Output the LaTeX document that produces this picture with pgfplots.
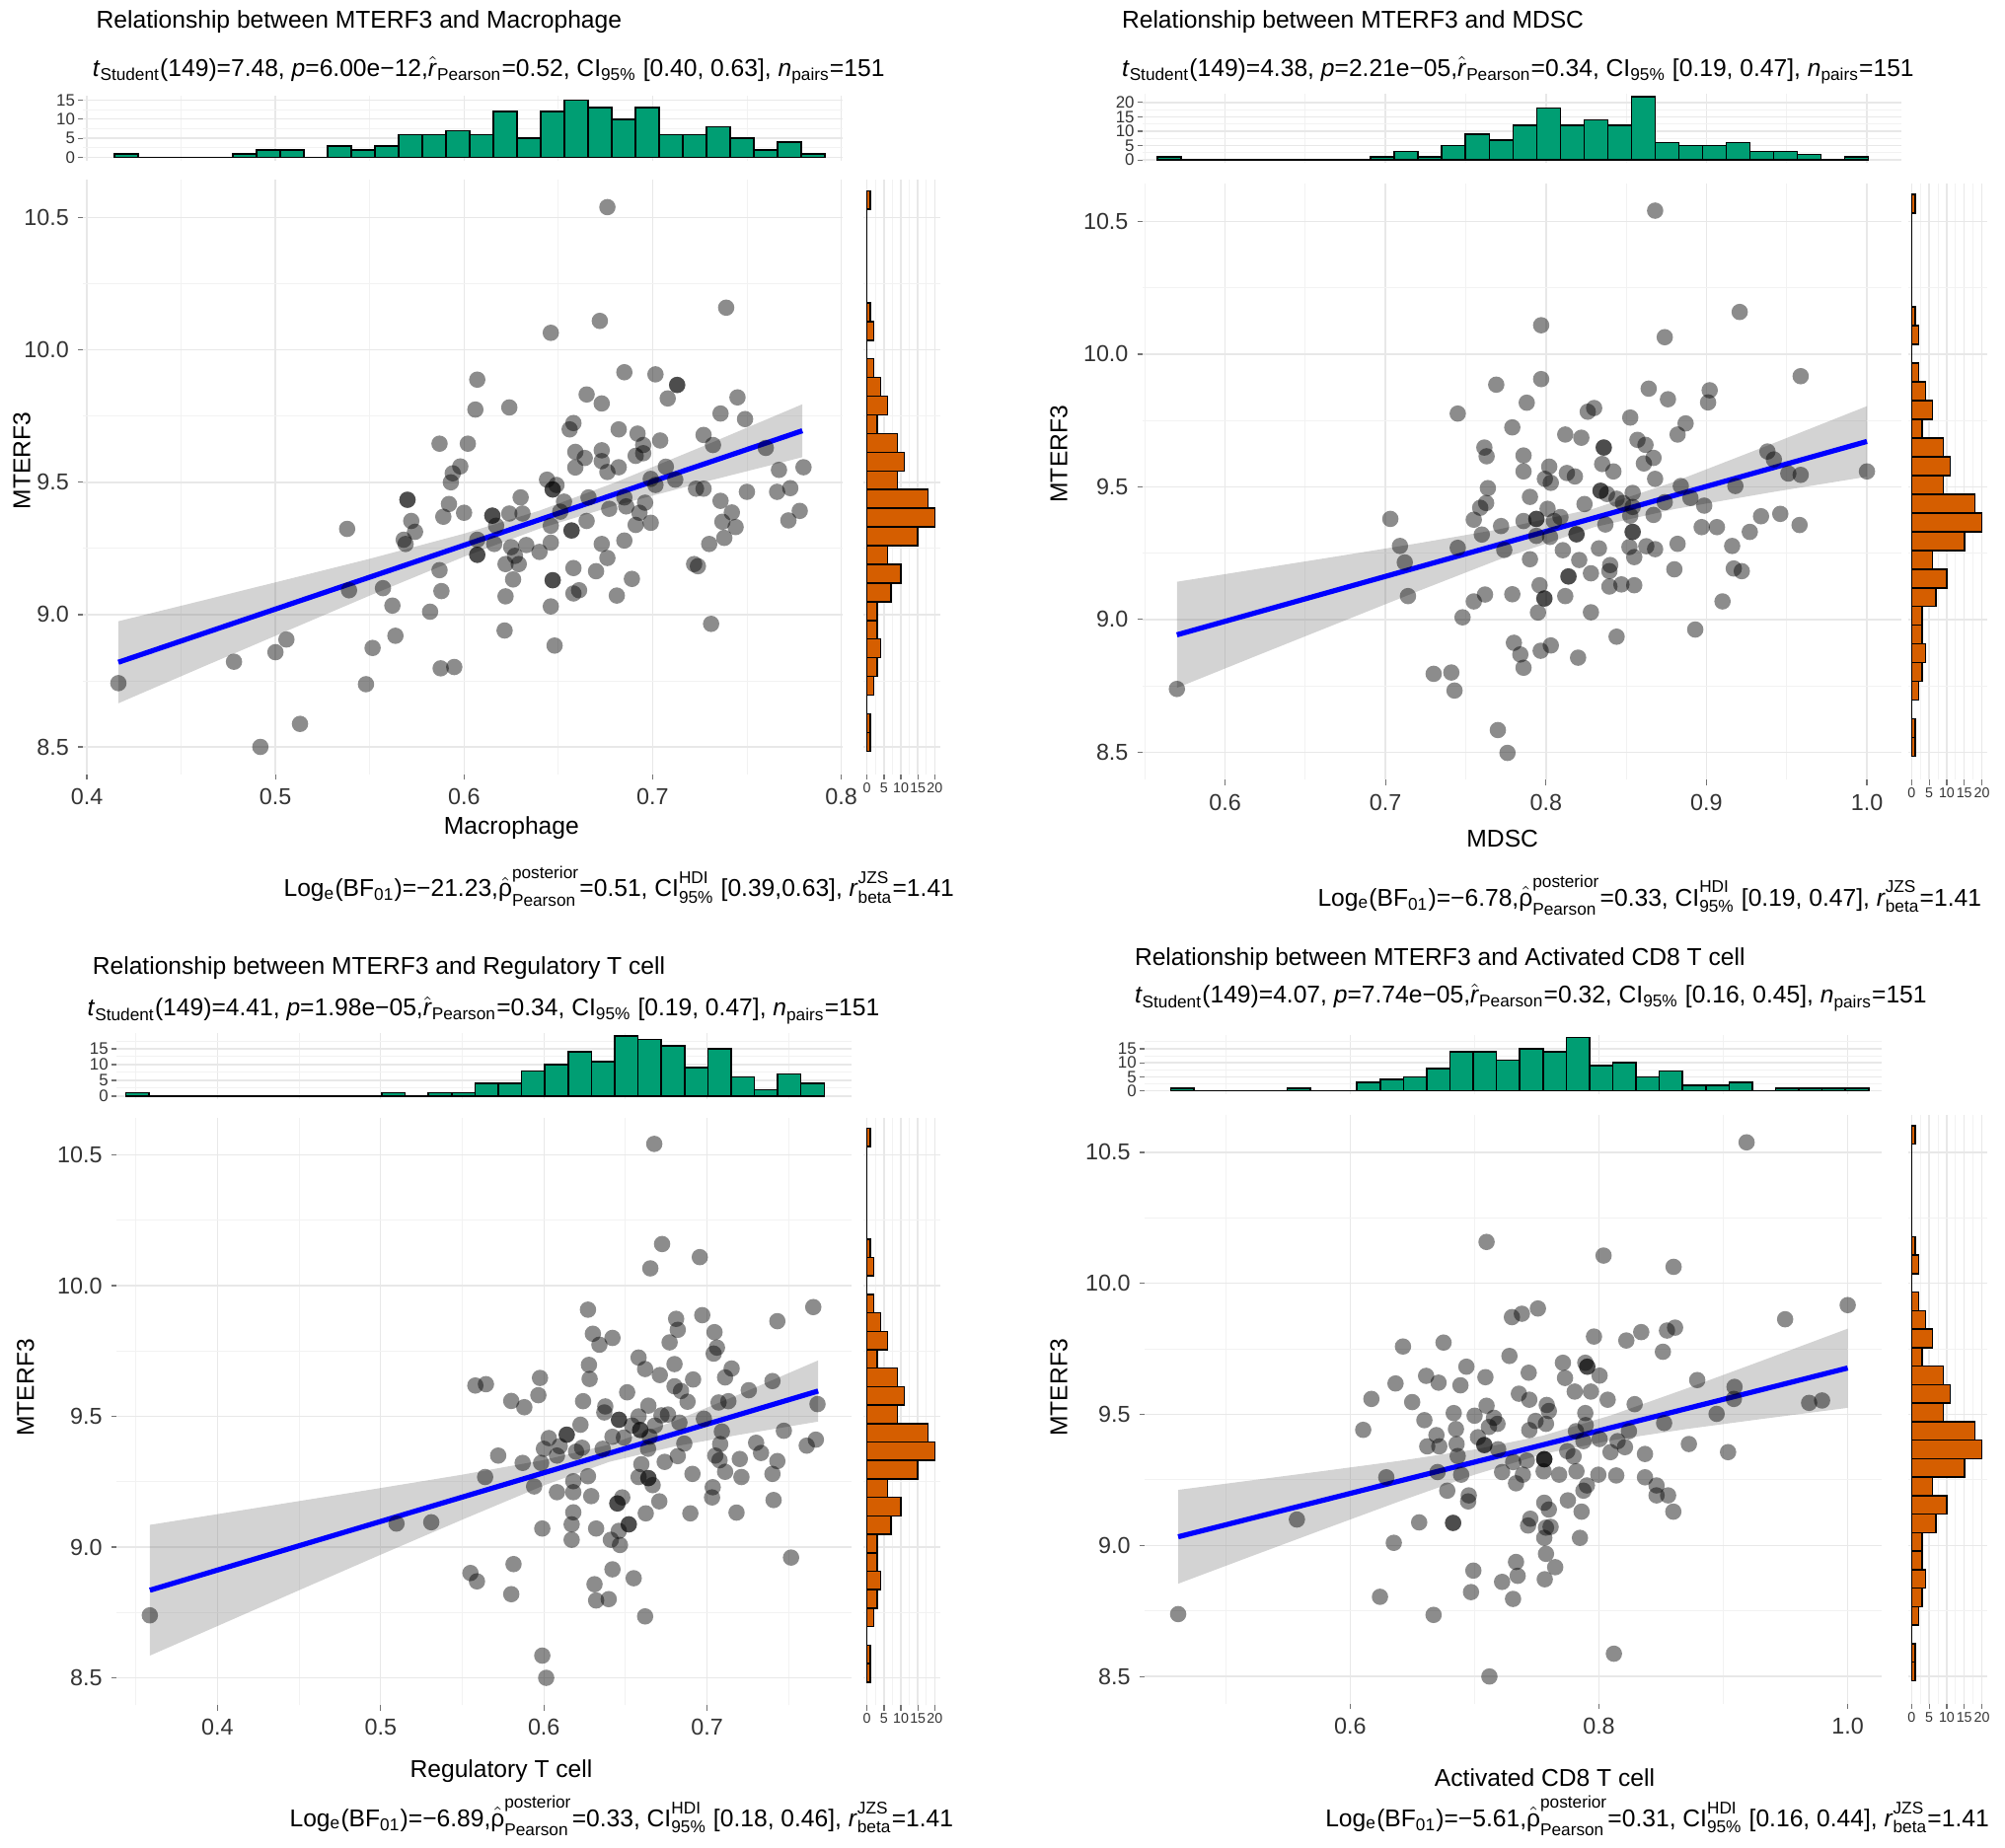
\documentclass[border=0pt]{standalone}
\usepackage{amsmath}
\usepackage{fontspec}
\setmainfont{Liberation Sans}
\usepackage{pgfplots}
\usepackage{pgfplotstable}
\pgfplotsset{compat=1.18}
\definecolor{hg}{HTML}{009E73}
\definecolor{ho}{HTML}{D55E00}
\pgfplotsset{
 base/.style={scale only axis, axis line style={draw=none}, tick align=outside,
   major tick length=2pt, minor tick length=0pt, tick style={black!55, line width=0.5pt},
   grid=both, major grid style={black!9, line width=0.55pt}, minor grid style={black!5, line width=0.35pt},
   xtick pos=bottom, ytick pos=left, /pgf/number format/assume math mode=true},
 scat/.style={base, ymin=8.395, ymax=10.643, ytick={8.5,9,9.5,10,10.5}, minor ytick={8.75,9.25,9.75,10.25},
   ticklabel style={font=\fontsize{9}{10}\selectfont, text=black!80,
   /pgf/number format/fixed, /pgf/number format/fixed zerofill, /pgf/number format/precision=1}},
 toph/.style={base, xticklabels={}, xtick style={draw=none},
   yticklabel style={font=\fontsize{6.5}{7}\selectfont, text=black!80, inner sep=1pt}},
 righth/.style={base, xmin=-1, xmax=21.5, xtick={0,5,10,15,20}, minor xtick={2.5,7.5,12.5,17.5},
   yticklabels={}, ytick style={draw=none}, ymin=8.395, ymax=10.643, ytick={8.5,9,9.5,10,10.5}, minor ytick={8.75,9.25,9.75,10.25},
   xticklabel style={font=\fontsize{5.5}{6}\selectfont, text=black!80, inner sep=1pt}},
 pts/.style={only marks, mark=*, mark size=3.2pt, mark options={draw opacity=0, fill=black, fill opacity=0.45}},
 band/.style={fill=black!50, fill opacity=0.35, draw=none},
 reg/.style={blue, line width=2pt},
 tbar/.style={ybar interval, fill=hg, draw=black, line width=0.6pt},
 rbar/.style={xbar interval, fill=ho, draw=black, line width=0.6pt},
}
\newcommand\statline[4]{\textit{t}$_{\text{Student}}$(149)=#1, \textit{p}=#2,$\hat{\text{\textit{r}}}_{\text{Pearson}}$=#3, CI$_{\text{95\%}}$ #4, \textit{n}$_{\text{pairs}}$=151}
\newcommand\up[2][1.2pt]{\text{\raisebox{#1}{#2}}}
\newcommand\dn[2][-0.6pt]{\text{\raisebox{#1}{#2}}}
\newcommand\bayesline[4]{Log$_{\text{e}}$(BF$_{\text{01}}$)=#1,$\hat{\text{ρ}}^{\up[2.2pt]{posterior}}_{\dn[-1.3pt]{Pearson}}$=#2, CI$^{\up{HDI}}_{\dn{95\%}}$ #3, \textit{r}$^{\up{JZS}}_{\dn{beta}}$=#4}
% right marginal histogram of MTERF3 (same in all panels): count, lower bin edge
\pgfplotstableread[row sep=\\]{c e\\1 8.484\\1 8.5546\\0 8.6252\\2 8.6958\\3 8.7664\\4 8.837\\3 8.9076\\3 8.9782\\7 9.0488\\10 9.1194\\6 9.19\\15 9.2606\\20 9.3312\\18 9.4018\\9 9.4724\\11 9.543\\9 9.6136\\3 9.6842\\6 9.7548\\4 9.8254\\2 9.896\\0 9.9666\\2 10.0372\\1 10.1078\\0 10.1784\\0 10.249\\0 10.3196\\0 10.3902\\0 10.4608\\1 10.5314\\1 10.602\\}\rightcounts
\begin{document}
\begin{tikzpicture}[font=\fontsize{9.5}{11}\selectfont]
\path[use as bounding box] (0,0) rectangle (784pt,722.6pt);

% ================= Panel 1 =================
\begin{axis}[scat, at={(32.5pt,419.65pt)}, anchor=south west, width=296.8pt, height=232.6pt,
  xmin=0.398, xmax=0.8005, xtick={0.4,0.5,0.6,0.7,0.8}, minor xtick={0.45,0.55,0.65,0.75}]
\addplot[pts] coordinates {(0.676,10.54) (0.739,10.16) (0.672,10.11) (0.646,10.065) (0.607,9.888) (0.685,9.916) (0.7015,9.908) (0.713,9.868) (0.713,9.868) (0.708,9.817) (0.665,9.832) (0.673,9.798) (0.745,9.821) (0.606,9.775) (0.624,9.783) (0.736,9.76) (0.749,9.739) (0.658,9.724) (0.656,9.70) (0.682,9.70) (0.587,9.646) (0.602,9.646) (0.692,9.684) (0.704,9.658) (0.727,9.679) (0.732,9.641) (0.695,9.641) (0.659,9.615) (0.673,9.621) (0.664,9.592) (0.691,9.60) (0.695,9.61) (0.673,9.58) (0.598,9.56) (0.594,9.534) (0.659,9.556) (0.682,9.557) (0.676,9.539) (0.707,9.559) (0.760,9.63) (0.767,9.547) (0.780,9.557) (0.593,9.50) (0.644,9.51) (0.649,9.49) (0.699,9.513) (0.712,9.51) (0.7015,9.49) (0.647,9.473) (0.647,9.473) (0.723,9.476) (0.727,9.476) (0.750,9.464) (0.766,9.464) (0.773,9.478) (0.570,9.434) (0.570,9.434) (0.592,9.418) (0.630,9.443) (0.666,9.443) (0.685,9.443) (0.696,9.423) (0.736,9.43) (0.653,9.427) (0.677,9.40) (0.686,9.409) (0.693,9.385) (0.742,9.386) (0.778,9.392) (0.589,9.37) (0.600,9.385) (0.615,9.374) (0.615,9.374) (0.624,9.382) (0.631,9.382) (0.651,9.389) (0.572,9.354) (0.665,9.354) (0.737,9.351) (0.772,9.356) (0.699,9.347) (0.691,9.339) (0.538,9.324) (0.574,9.313) (0.617,9.336) (0.646,9.336) (0.657,9.318) (0.657,9.318) (0.744,9.331) (0.568,9.283) (0.569,9.267) (0.607,9.283) (0.616,9.267) (0.625,9.255) (0.633,9.263) (0.646,9.272) (0.673,9.267) (0.685,9.280) (0.730,9.267) (0.738,9.29) (0.607,9.226) (0.607,9.226) (0.627,9.222) (0.640,9.237) (0.676,9.214) (0.587,9.168) (0.622,9.191) (0.629,9.191) (0.658,9.176) (0.670,9.164) (0.722,9.191) (0.724,9.183) (0.626,9.133) (0.647,9.13) (0.647,9.13) (0.689,9.135) (0.539,9.092) (0.557,9.10) (0.588,9.089) (0.622,9.069) (0.658,9.08) (0.661,9.092) (0.681,9.072) (0.562,9.034) (0.582,9.011) (0.646,9.031) (0.731,8.965) (0.6215,8.94) (0.5636,8.92) (0.5058,8.906) (0.500,8.858) (0.5515,8.874) (0.648,8.883) (0.478,8.822) (0.5876,8.797) (0.5948,8.802) (0.4167,8.741) (0.548,8.737) (0.513,8.587) (0.492,8.50)};
\addplot[band] coordinates {(0.4167,8.975) (0.46,9.051) (0.50,9.122) (0.55,9.211) (0.60,9.306) (0.64,9.393) (0.68,9.499) (0.73,9.646) (0.7794,9.795) (0.7794,9.595) (0.73,9.506) (0.68,9.412) (0.64,9.325) (0.60,9.219) (0.55,9.072) (0.50,8.920) (0.46,8.798) (0.4167,8.665)};
\addplot[reg] coordinates {(0.4167,8.82) (0.7794,9.695)};
\end{axis}
\begin{axis}[toph, at={(32.5pt,659.8pt)}, anchor=south west, width=296.8pt, height=25.2pt,
  xmin=0.398, xmax=0.8005, xtick={0.4,0.5,0.6,0.7,0.8}, minor xtick={0.45,0.55,0.65,0.75},
  ymin=-0.8, ymax=16, ytick={0,5,10,15}, minor ytick={2.5,7.5,12.5}]
\addplot[tbar] table[row sep=\\, header=false, x expr={0.4146+\coordindex*0.012557}, y index=0]
 {1\\0\\0\\0\\0\\1\\2\\2\\0\\3\\2\\3\\6\\6\\7\\6\\12\\5\\12\\15\\13\\10\\13\\6\\6\\8\\5\\2\\4\\1\\1\\};
\end{axis}
\begin{axis}[righth, at={(337.7pt,419.65pt)}, anchor=south west, width=29.8pt, height=232.6pt]
\addplot[rbar] table[x=c, y=e] {\rightcounts};
\end{axis}

% ================= Panel 2 =================
\begin{axis}[scat, at={(446.7pt,417.6pt)}, anchor=south west, width=296.8pt, height=233.2pt,
  xmin=0.5485, xmax=1.0215, xtick={0.6,0.7,0.8,0.9,1.0}, minor xtick={0.55,0.65,0.75,0.85,0.95}]
\addplot[pts] coordinates {(0.868,10.541) (0.9207,10.159) (0.797,10.109) (0.874,10.064) (0.9587,9.917) (0.797,9.906) (0.769,9.885) (0.864,9.87) (0.902,9.864) (0.901,9.818) (0.876,9.83) (0.788,9.817) (0.745,9.776) (0.826,9.783) (0.830,9.797) (0.8525,9.761) (0.887,9.739) (0.779,9.724) (0.882,9.697) (0.812,9.697) (0.822,9.685) (0.857,9.677) (0.862,9.658) (0.7616,9.648) (0.763,9.615) (0.836,9.648) (0.836,9.648) (0.786,9.618) (0.867,9.609) (0.938,9.633) (0.942,9.603) (0.861,9.588) (0.835,9.586) (0.802,9.576) (0.786,9.558) (0.842,9.558) (0.813,9.552) (0.818,9.539) (0.951,9.55) (0.9587,9.545) (1.0,9.558) (0.7993,9.53) (0.803,9.515) (0.868,9.53) (0.7638,9.495) (0.884,9.503) (0.918,9.503) (0.834,9.485) (0.834,9.485) (0.838,9.473) (0.854,9.477) (0.790,9.462) (0.844,9.455) (0.874,9.442) (0.890,9.458) (0.7627,9.439) (0.759,9.421) (0.824,9.435) (0.848,9.439) (0.854,9.424) (0.8986,9.429) (0.801,9.417) (0.703,9.379) (0.755,9.376) (0.786,9.371) (0.794,9.379) (0.794,9.379) (0.805,9.371) (0.809,9.386) (0.8525,9.391) (0.867,9.394) (0.934,9.389) (0.946,9.398) (0.772,9.352) (0.837,9.358) (0.897,9.348) (0.9065,9.348) (0.958,9.356) (0.854,9.330) (0.854,9.330) (0.760,9.32) (0.794,9.315) (0.8025,9.311) (0.819,9.321) (0.819,9.321) (0.927,9.33) (0.709,9.277) (0.745,9.27) (0.774,9.262) (0.8105,9.261) (0.833,9.268) (0.852,9.273) (0.8625,9.276) (0.868,9.265) (0.882,9.285) (0.916,9.277) (0.712,9.215) (0.790,9.227) (0.8207,9.224) (0.855,9.235) (0.840,9.205) (0.828,9.174) (0.880,9.189) (0.917,9.192) (0.922,9.182) (0.814,9.162) (0.814,9.162) (0.8395,9.182) (0.796,9.129) (0.8395,9.124) (0.847,9.132) (0.855,9.129) (0.714,9.088) (0.755,9.068) (0.762,9.094) (0.779,9.095) (0.799,9.079) (0.799,9.079) (0.812,9.088) (0.910,9.068) (0.748,9.008) (0.795,9.026) (0.828,9.027) (0.893,8.962) (0.844,8.935) (0.780,8.912) (0.784,8.868) (0.7967,8.882) (0.803,8.902) (0.820,8.856) (0.786,8.818) (0.730,8.795) (0.741,8.80) (0.743,8.732) (0.570,8.738) (0.770,8.583) (0.776,8.497)};
\addplot[band] coordinates {(0.57,9.142) (0.62,9.190) (0.67,9.238) (0.72,9.287) (0.77,9.339) (0.83,9.418) (0.88,9.519) (0.94,9.660) (1.0,9.804) (1.0,9.538) (0.94,9.479) (0.88,9.416) (0.83,9.348) (0.77,9.224) (0.72,9.106) (0.67,8.985) (0.62,8.864) (0.57,8.742)};
\addplot[reg] coordinates {(0.570,8.942) (1.0,9.671)};
\end{axis}
\begin{axis}[toph, at={(446.7pt,658.9pt)}, anchor=south west, width=296.8pt, height=27pt,
  xmin=0.5485, xmax=1.0215, xtick={0.6,0.7,0.8,0.9,1.0}, minor xtick={0.55,0.65,0.75,0.85,0.95},
  ymin=-1, ymax=23, ytick={0,5,10,15,20}, minor ytick={2.5,7.5,12.5,17.5}]
\addplot[tbar] table[row sep=\\, header=false, x expr={0.5578+\coordindex*0.014773}, y index=0]
 {1\\0\\0\\0\\0\\0\\0\\0\\0\\1\\3\\1\\5\\9\\7\\12\\18\\12\\14\\12\\22\\6\\5\\5\\6\\3\\3\\2\\0\\1\\1\\};
\end{axis}
\begin{axis}[righth, at={(746.1pt,417.6pt)}, anchor=south west, width=30.9pt, height=233.2pt]
\addplot[rbar] table[x=c, y=e] {\rightcounts};
\end{axis}

% ================= Panel 3 =================
\begin{axis}[scat, at={(45.5pt,55.75pt)}, anchor=south west, width=287.5pt, height=229.85pt,
  xmin=0.3381, xmax=0.7885, xtick={0.4,0.5,0.6,0.7}, minor xtick={0.35,0.45,0.55,0.65,0.75}]
\addplot[pts] coordinates {(0.6676,10.542) (0.6724,10.159) (0.6955,10.109) (0.6652,10.066) (0.627,9.908) (0.697,9.887) (0.765,9.918) (0.681,9.873) (0.682,9.831) (0.743,9.864) (0.630,9.816) (0.642,9.80) (0.634,9.774) (0.7045,9.822) (0.677,9.783) (0.706,9.763) (0.704,9.74) (0.658,9.725) (0.662,9.681) (0.680,9.70) (0.6276,9.697) (0.715,9.683) (0.558,9.618) (0.5645,9.623) (0.5976,9.647) (0.628,9.643) (0.671,9.658) (0.6914,9.641) (0.711,9.649) (0.740,9.635) (0.5966,9.581) (0.651,9.592) (0.680,9.615) (0.684,9.597) (0.7255,9.60) (0.580,9.559) (0.588,9.535) (0.624,9.558) (0.688,9.556) (0.707,9.553) (0.713,9.558) (0.7676,9.547) (0.6376,9.538) (0.664,9.541) (0.637,9.515) (0.658,9.50) (0.672,9.504) (0.676,9.507) (0.646,9.487) (0.646,9.487) (0.683,9.476) (0.698,9.491) (0.6224,9.468) (0.654,9.465) (0.659,9.448) (0.659,9.448) (0.668,9.465) (0.709,9.442) (0.747,9.445) (0.614,9.43) (0.614,9.43) (0.603,9.417) (0.642,9.422) (0.649,9.419) (0.6648,9.422) (0.730,9.399) (0.7666,9.411) (0.686,9.396) (0.708,9.394) (0.761,9.388) (0.600,9.376) (0.6097,9.386) (0.6234,9.38) (0.636,9.376) (0.6638,9.376) (0.733,9.36) (0.572,9.35) (0.608,9.35) (0.6197,9.365) (0.682,9.348) (0.705,9.35) (0.7076,9.332) (0.587,9.322) (0.5983,9.322) (0.6597,9.317) (0.674,9.326) (0.720,9.337) (0.743,9.329) (0.564,9.268) (0.627,9.271) (0.658,9.268) (0.664,9.264) (0.664,9.264) (0.691,9.28) (0.711,9.288) (0.721,9.268) (0.740,9.28) (0.618,9.252) (0.594,9.232) (0.6666,9.237) (0.608,9.210) (0.618,9.210) (0.629,9.195) (0.648,9.19) (0.7034,9.229) (0.703,9.19) (0.6707,9.175) (0.645,9.167) (0.645,9.167) (0.7407,9.18) (0.618,9.133) (0.6624,9.129) (0.6897,9.129) (0.718,9.132) (0.5097,9.09) (0.531,9.095) (0.599,9.071) (0.617,9.087) (0.632,9.071) (0.652,9.087) (0.652,9.087) (0.6459,9.062) (0.617,9.028) (0.641,9.028) (0.6466,9.008) (0.7514,8.96) (0.5814,8.935) (0.642,8.915) (0.555,8.901) (0.559,8.869) (0.655,8.881) (0.631,8.858) (0.580,8.82) (0.632,8.796) (0.6397,8.801) (0.3586,8.739) (0.662,8.735) (0.599,8.585) (0.6014,8.50)};
\addplot[band] coordinates {(0.3586,9.085) (0.40,9.126) (0.45,9.176) (0.50,9.226) (0.55,9.277) (0.60,9.333) (0.64,9.392) (0.68,9.482) (0.72,9.585) (0.768,9.714) (0.768,9.480) (0.72,9.430) (0.68,9.385) (0.64,9.326) (0.60,9.236) (0.55,9.105) (0.50,8.971) (0.45,8.835) (0.40,8.698) (0.3586,8.585)};
\addplot[reg] coordinates {(0.3586,8.835) (0.768,9.597)};
\end{axis}
\begin{axis}[toph, at={(45.5pt,292.75pt)}, anchor=south west, width=287.5pt, height=25.9pt,
  xmin=0.3381, xmax=0.7885, xtick={0.4,0.5,0.6,0.7}, minor xtick={0.35,0.45,0.55,0.65,0.75},
  ymin=-1, ymax=20, ytick={0,5,10,15}, minor ytick={2.5,7.5,12.5,17.5}]
\addplot[tbar] table[row sep=\\, header=false, x expr={0.3439+\coordindex*0.01426}, y index=0]
 {1\\0\\0\\0\\0\\0\\0\\0\\0\\0\\0\\1\\0\\1\\1\\4\\4\\8\\10\\14\\11\\19\\18\\16\\9\\15\\6\\2\\7\\4\\4\\};
\end{axis}
\begin{axis}[righth, at={(337.7pt,55.75pt)}, anchor=south west, width=29.8pt, height=229.85pt]
\addplot[rbar] table[x=c, y=e] {\rightcounts};
\end{axis}

% ================= Panel 4 =================
\begin{axis}[scat, at={(447.55pt,56.25pt)}, anchor=south west, width=288.4pt, height=230.4pt,
  xmin=0.4346, xmax=1.0277, xtick={0.6,0.8,1.0}, minor xtick={0.5,0.7,0.9}]
\addplot[pts] coordinates {(0.9187,10.538) (0.7096,10.158) (0.8037,10.106) (0.860,10.063) (1.0,9.917) (0.7509,9.904) (0.730,9.871) (0.738,9.884) (0.9497,9.863) (0.8547,9.82) (0.8612,9.831) (0.834,9.814) (0.822,9.782) (0.796,9.797) (0.6424,9.759) (0.675,9.774) (0.8514,9.739) (0.728,9.723) (0.771,9.697) (0.789,9.697) (0.7906,9.682) (0.7906,9.682) (0.6934,9.682) (0.661,9.647) (0.7087,9.642) (0.7435,9.659) (0.7727,9.639) (0.8005,9.648) (0.6364,9.618) (0.671,9.621) (0.6886,9.611) (0.879,9.631) (0.617,9.559) (0.6498,9.547) (0.7356,9.579) (0.744,9.556) (0.7805,9.587) (0.7935,9.587) (0.807,9.556) (0.909,9.605) (0.9085,9.559) (0.969,9.544) (0.9794,9.553) (0.7096,9.533) (0.758,9.536) (0.7597,9.513) (0.8287,9.539) (0.6596,9.478) (0.6832,9.505) (0.700,9.495) (0.7156,9.487) (0.749,9.475) (0.789,9.505) (0.8946,9.502) (0.6104,9.441) (0.685,9.444) (0.7115,9.452) (0.7184,9.464) (0.744,9.44) (0.7574,9.464) (0.7893,9.459) (0.8524,9.467) (0.6693,9.421) (0.7027,9.413) (0.7815,9.436) (0.8241,9.436) (0.6619,9.378) (0.6716,9.378) (0.6855,9.387) (0.7078,9.383) (0.7078,9.383) (0.7875,9.398) (0.8005,9.406) (0.815,9.398) (0.8723,9.387) (0.9038,9.356) (0.6864,9.341) (0.7189,9.367) (0.7745,9.36) (0.8093,9.356) (0.8209,9.375) (0.837,9.349) (0.731,9.318) (0.742,9.324) (0.756,9.329) (0.756,9.329) (0.756,9.329) (0.7796,9.34) (0.6702,9.28) (0.6892,9.27) (0.7221,9.28) (0.7388,9.27) (0.7555,9.283) (0.768,9.27) (0.7819,9.283) (0.7995,9.27) (0.8139,9.267) (0.837,9.26) (0.629,9.26) (0.7333,9.237) (0.7903,9.229) (0.8463,9.229) (0.678,9.209) (0.7875,9.209) (0.8463,9.191) (0.8556,9.191) (0.6953,9.191) (0.6948,9.168) (0.775,9.172) (0.756,9.163) (0.786,9.129) (0.7597,9.137) (0.8598,9.129) (0.5571,9.099) (0.6554,9.088) (0.6827,9.086) (0.6827,9.086) (0.7448,9.102) (0.743,9.076) (0.7574,9.068) (0.7611,9.071) (0.756,9.029) (0.7847,9.029) (0.635,9.01) (0.7574,8.968) (0.7333,8.937) (0.699,8.904) (0.7648,8.917) (0.7346,8.884) (0.7221,8.861) (0.7564,8.871) (0.6971,8.822) (0.6239,8.804) (0.7309,8.796) (0.4616,8.738) (0.667,8.735) (0.812,8.587) (0.7119,8.50)};
\addplot[band] coordinates {(0.4616,9.212) (0.52,9.248) (0.58,9.285) (0.64,9.323) (0.70,9.366) (0.755,9.419) (0.81,9.497) (0.87,9.598) (0.93,9.703) (1.0,9.827) (1.0,9.525) (0.93,9.482) (0.87,9.444) (0.81,9.401) (0.755,9.349) (0.70,9.270) (0.64,9.169) (0.58,9.064) (0.52,8.958) (0.4616,8.854)};
\addplot[reg] coordinates {(0.4616,9.033) (1.0,9.677)};
\end{axis}
\begin{axis}[toph, at={(447.55pt,294.9pt)}, anchor=south west, width=288.4pt, height=23.1pt,
  xmin=0.4346, xmax=1.0277, xtick={0.6,0.8,1.0}, minor xtick={0.5,0.7,0.9},
  ymin=-1, ymax=20, ytick={0,5,10,15}, minor ytick={2.5,7.5,12.5,17.5}]
\addplot[tbar] table[row sep=\\, header=false, x expr={0.4557+\coordindex*0.018703}, y index=0]
 {1\\0\\0\\0\\0\\1\\0\\0\\3\\4\\5\\8\\14\\14\\11\\15\\14\\19\\9\\10\\5\\7\\2\\2\\3\\0\\1\\1\\1\\1\\1\\};
\end{axis}
\begin{axis}[righth, at={(746.1pt,56.25pt)}, anchor=south west, width=30.9pt, height=230.4pt]
\addplot[rbar] table[x=c, y=e] {\rightcounts};
\end{axis}

% ================= Texts =================
\begin{scope}[every node/.style={inner sep=0pt}]
\node[anchor=west] at (37.5pt,714pt) {Relationship between MTERF3 and Macrophage};
\node[anchor=west] at (36pt,695pt) {\statline{7.48}{6.00e−12}{0.52}{[0.40, 0.63]}};
\node at (200pt,399pt) {Macrophage};
\node[rotate=90] at (8.5pt,542.5pt) {MTERF3};
\node at (242pt,376pt) {\bayesline{−21.23}{0.51}{[0.39,0.63]}{1.41}};

\node[anchor=west] at (438.5pt,714pt) {Relationship between MTERF3 and MDSC};
\node[anchor=west] at (438.5pt,695pt) {\statline{4.38}{2.21e−05}{0.34}{[0.19, 0.47]}};
\node at (587.5pt,394.5pt) {MDSC};
\node[rotate=90] at (414pt,545pt) {MTERF3};
\node at (645pt,372.5pt) {\bayesline{−6.78}{0.33}{[0.19, 0.47]}{1.41}};

\node[anchor=west] at (36pt,344pt) {Relationship between MTERF3 and Regulatory T cell};
\node[anchor=west] at (34pt,327.5pt) {\statline{4.41}{1.98e−05}{0.34}{[0.19, 0.47]}};
\node at (196pt,30pt) {Regulatory T cell};
\node[rotate=90] at (10pt,180pt) {MTERF3};
\node at (243pt,12.5pt) {\bayesline{−6.89}{0.33}{[0.18, 0.46]}{1.41}};

\node[anchor=west] at (443.5pt,347.5pt) {Relationship between MTERF3 and Activated CD8 T cell};
\node[anchor=west] at (443.5pt,332.5pt) {\statline{4.07}{7.74e−05}{0.32}{[0.16, 0.45]}};
\node at (604pt,27.5pt) {Activated CD8 T cell};
\node[rotate=90] at (414pt,180pt) {MTERF3};
\node at (648pt,12.5pt) {\bayesline{−5.61}{0.31}{[0.16, 0.44]}{1.41}};
\end{scope}
\end{tikzpicture}
\end{document}
